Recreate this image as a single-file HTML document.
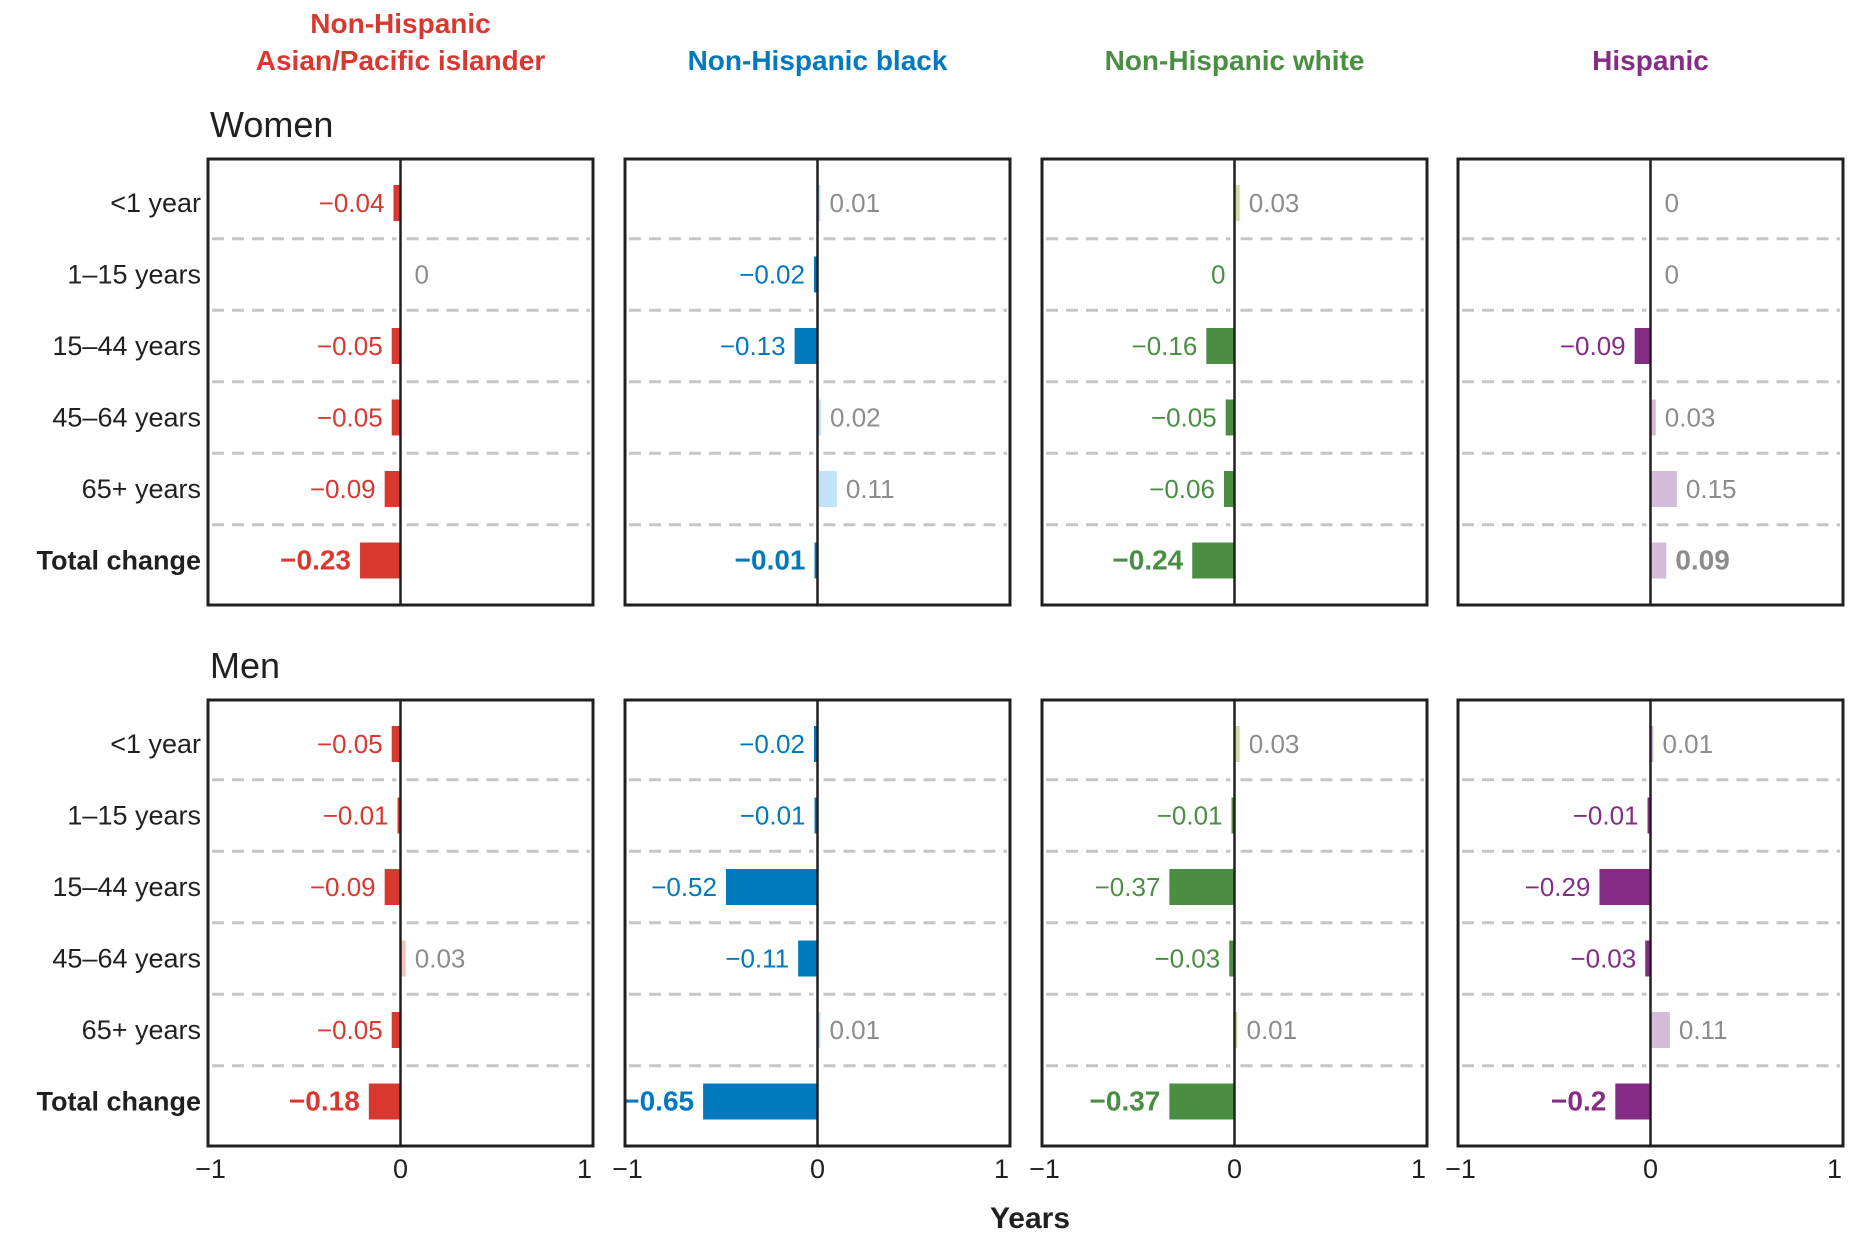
<!DOCTYPE html>
<html><head><meta charset="utf-8"><style>
html,body{margin:0;padding:0;background:#fff}
svg{display:block}
text{font-family:"Liberation Sans Narrow","Liberation Sans",sans-serif}
</style></head><body>
<svg id="chart" width="1866" height="1240" viewBox="0 0 1866 1240" xmlns="http://www.w3.org/2000/svg"></svg>
<script>
const groups = ["Non-Hispanic|Asian/Pacific islander","Non-Hispanic black","Non-Hispanic white","Hispanic"];
const ageRows = ["<1 year","1\u201315 years","15\u201344 years","45\u201364 years","65+ years","Total change"];
const sexes = ["Women","Men"];
const womenAsian = [-0.04,0,-0.05,-0.05,-0.09,-0.23];
const womenBlack = [0.01,-0.02,-0.13,0.02,0.11,-0.01];
const womenWhite = [0.03,-0.0,-0.16,-0.05,-0.06,-0.24];
const womenHisp = [0,0,-0.09,0.03,0.15,0.09];
const menAsian = [-0.05,-0.01,-0.09,0.03,-0.05,-0.18];
const menBlack = [-0.02,-0.01,-0.52,-0.11,0.01,-0.65];
const menWhite = [0.03,-0.01,-0.37,-0.03,0.01,-0.37];
const menHisp = [0.01,-0.01,-0.29,-0.03,0.11,-0.2];
const tickValues = [-1,0,1];
const tickLabels = ["\u22121","0","1"];

const dark = ["#d93831","#0079bf","#4a8e44","#852c86"];
const light = ["#f2c4c2","#c2e3f6","#c9e0a2","#d3bcd9"];
const NS="http://www.w3.org/2000/svg";
const svg=document.getElementById('chart');
function mk(tag,attrs,parent){const e=document.createElementNS(NS,tag);for(const k in attrs)e.setAttribute(k,attrs[k]);(parent||svg).appendChild(e);return e;}
function fmt(v){if(v===0)return "0";const s=String(Math.abs(v));return (v<0?"\u2212":"")+s;}

const panelLeft=[208,625,1042,1458], panelW=385;
const panelTop=[159,700], panelH=446;
const rowH=71.5, firstRow=44, barH=36;
const unit=176;
const tickUnit=184;
function xScale(p,v){return panelLeft[p]+panelW/2+v*unit;}
function xTick(p,v){return panelLeft[p]+panelW/2+v*tickUnit;}
function yRow(s,i){return panelTop[s]+firstRow+i*rowH;}
const data=[[womenAsian,womenBlack,womenWhite,womenHisp],[menAsian,menBlack,menWhite,menHisp]];

groups.forEach((g,p)=>{
  const parts=g.split("|");
  parts.forEach((t,j)=>{
    const el=mk('text',{x:panelLeft[p]+panelW/2,y:(parts.length===2?33+j*37:70),'text-anchor':'middle','font-size':28,'font-weight':'bold',fill:dark[p]});
    el.textContent=t;
    
    
  });
});

sexes.forEach((sx,s)=>{
  const st=mk('text',{x:210,y:panelTop[s]-22,'font-size':36,fill:'#231f20'});
  st.textContent=sx;
  
  
  ageRows.forEach((r,i)=>{
    const t=mk('text',{x:201,y:yRow(s,i)+9,'text-anchor':'end','font-size':27,'font-weight':i===5?'bold':'normal',fill:'#231f20'});
    t.textContent=r;
    
    
  });
  for(let p=0;p<4;p++){
    const g=mk('g',{});
    
    
    const L=panelLeft[p],T=panelTop[s],z=xScale(p,0);
    for(let i=0;i<5;i++){
      const y=yRow(s,i)+rowH/2;
      const d1=mk('line',{x1:L+4,x2:z-4,y1:y,y2:y,stroke:'#c6c6c6','stroke-width':3,'stroke-dasharray':'12 8'},g);
      
      
      const d2=mk('line',{x1:z+6,x2:L+panelW-3,y1:y,y2:y,stroke:'#c6c6c6','stroke-width':3,'stroke-dasharray':'12 8'},g);
      
      
    }
    const vals=data[s][p];
    vals.forEach((v,i)=>{
      const yc=yRow(s,i);
      const neg=v<0||Object.is(v,-0);
      let w=Math.abs(xScale(p,v)-xScale(p,0));
      if(v!==0) w=Math.max(w,3);
      const x0=neg?xScale(p,0)-w:xScale(p,0);
      if(v!==0){
        const b=mk('rect',{x:x0,y:yc-barH/2,width:w,height:barH,fill:neg?dark[p]:light[p]},g);
        
        
      }
      const bold=i===5;
      const col=neg?dark[p]:'#8c8c8c';
      const lx=neg?x0-9:x0+w+(v===0?14:9);
      const t=mk('text',{x:lx,y:yc+9,'text-anchor':neg?'end':'start','font-size':bold?28:26,'font-weight':bold?'bold':'normal',fill:col},g);
      t.textContent=fmt(v);
      
      
    });
    const zl=mk('line',{x1:z,x2:z,y1:T,y2:T+panelH,stroke:'#231f20','stroke-width':2.5},g);
    
    
    const box=mk('rect',{x:L,y:T,width:panelW,height:panelH,fill:'none',stroke:'#231f20','stroke-width':3},g);
    
    
    if(s===1){
      tickValues.forEach((tv,k)=>{
        const tt=mk('text',{x:xTick(p,tv)-(tv<0?6:0),y:1178,'text-anchor':'middle','font-size':27,fill:'#231f20'});
        tt.textContent=tickLabels[k];
        
        
      });
    }
  }
});
const xt=mk('text',{x:1030,y:1228,'text-anchor':'middle','font-size':30,'font-weight':'bold',fill:'#231f20'});
xt.textContent="Years";


</script>
</body></html>
